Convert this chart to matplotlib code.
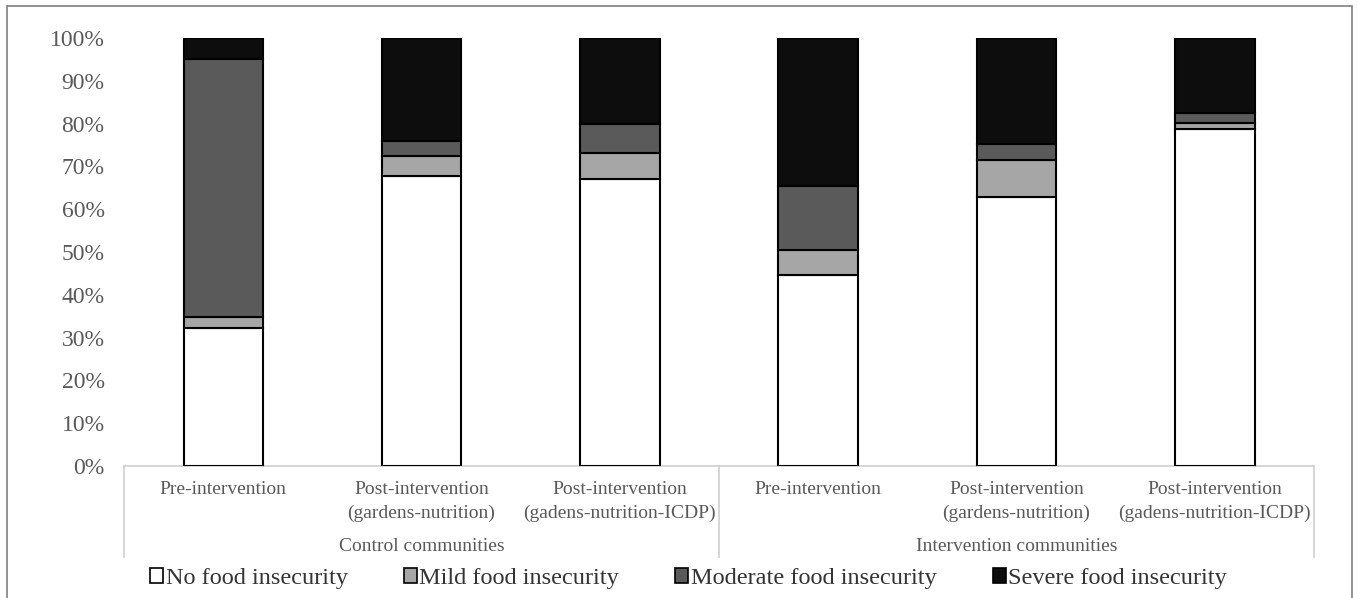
import matplotlib
matplotlib.use("Agg")
import matplotlib.pyplot as plt
from matplotlib.patches import Patch, Rectangle
import numpy as np

# stacked shares (%)
categories = ["Pre-intervention", "Post-intervention\n(gardens-nutrition)",
              "Post-intervention\n(gadens-nutrition-ICDP)",
              "Pre-intervention", "Post-intervention\n(gardens-nutrition)",
              "Post-intervention\n(gadens-nutrition-ICDP)"]
groups = ["Control communities", "Intervention communities"]
series_names = ["No food insecurity", "Mild food insecurity",
                "Moderate food insecurity", "Severe food insecurity"]
no_fi = [32.2, 67.8, 67.0, 44.6, 62.8, 78.7]
mild_fi = [2.7, 4.6, 6.2, 5.9, 8.7, 1.5]
moderate_fi = [60.1, 3.6, 6.7, 14.9, 3.7, 2.2]
severe_fi = [5.0, 24.0, 20.1, 34.6, 24.8, 17.6]
yticks = [0, 10, 20, 30, 40, 50, 60, 70, 80, 90, 100]

colors = ["#ffffff", "#a6a6a6", "#5a5a5a", "#0d0d0d"]
txt = "#595959"
line_gray = "#d0d0d0"
plt.rcParams['font.family'] = ['Liberation Serif', 'DejaVu Serif']

W, H = 1358, 598
fig = plt.figure(figsize=(W / 100, H / 100), dpi=100)
ax = fig.add_axes([124 / W, 1 - 466 / H, (1314 - 124) / W, (466 - 38) / H])

x = np.arange(len(categories))
bottom = np.zeros(len(categories))
for vals, c in zip([no_fi, mild_fi, moderate_fi, severe_fi], colors):
    ax.bar(x, vals, width=0.4, bottom=bottom, color=c, edgecolor="black",
           linewidth=1.5, zorder=3)
    bottom += np.array(vals)

ax.set_xlim(-0.5, len(categories) - 0.5)
ax.set_ylim(0, 100)
ax.set_yticks(yticks)
ax.set_yticklabels([f"{v}%" for v in yticks], fontsize=17, color=txt)
ax.tick_params(axis="y", length=0, pad=14)
ax.set_xticks([])
for s in ax.spines.values():
    s.set_visible(False)

# category table under the axis
tr = ax.get_xaxis_transform()
ax.plot([-0.5, 5.5], [0, 0], color=line_gray, lw=1.2, transform=tr, clip_on=False)
for xv in [-0.5, 2.5, 5.5]:
    ax.plot([xv, xv], [0, -0.213], color=line_gray, lw=1.2, transform=tr, clip_on=False)
for i, lab in enumerate(categories):
    ax.text(i, -0.036, lab, transform=tr, ha="center", va="top", fontsize=14,
            color=txt, linespacing=1.45)
for g, lab in enumerate(groups):
    ax.text(g * 3 + 1, -0.189, lab, transform=tr, ha="center", va="center",
            fontsize=14, color=txt)

handles = [Patch(facecolor=c, edgecolor="black", linewidth=1.2) for c in colors]
fig.legend(handles, series_names, loc="center", bbox_to_anchor=(0.507, 0.032),
           ncol=4, frameon=False, fontsize=17.5, handlelength=0.55,
           handleheight=0.55, handletextpad=0.1, columnspacing=2.3,
           labelcolor="#333333")

# outer frame
fig.patches.append(Rectangle((7 / W, -0.05), (1352 - 7) / W, 1.05 - 6 / H,
                             transform=fig.transFigure, fill=False,
                             edgecolor="#7f7f7f", lw=1.2))

fig.savefig("out.png", dpi=100)
